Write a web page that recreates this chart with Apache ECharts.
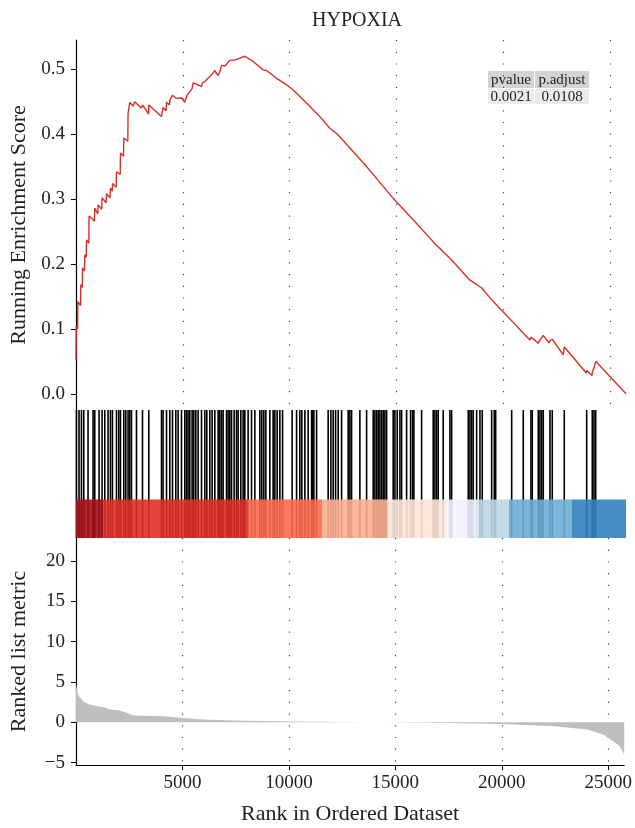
<!DOCTYPE html>
<html>
<head>
<meta charset="utf-8">
<title>HYPOXIA</title>
<script src="https://cdn.jsdelivr.net/npm/echarts@6/dist/echarts.min.js"></script>
<style>
  html, body { margin: 0; padding: 0; background: #fff; }
  #chart { width: 635px; height: 828px; }
</style>
</head>
<body>
<div id="chart"></div>
<script>
// ---- data ----
const geneCount = 25750;

// running enrichment score, [rank, score]
const esPoints = [
  [0, 0.052], [8, 0.104], [75, 0.100], [85, 0.142], [215, 0.136], [225, 0.168],
  [295, 0.164], [305, 0.194], [400, 0.189], [412, 0.214], [480, 0.210], [492, 0.237],
  [600, 0.232], [612, 0.274], [860, 0.266], [878, 0.286], [1020, 0.277], [1035, 0.291],
  [1200, 0.284], [1220, 0.302], [1410, 0.294], [1426, 0.308], [1590, 0.302], [1614, 0.317],
  [1700, 0.312], [1710, 0.324], [1880, 0.318], [1895, 0.342], [2070, 0.338], [2082, 0.371],
  [2225, 0.366], [2237, 0.394], [2425, 0.389], [2438, 0.432], [2510, 0.430], [2518, 0.449],
  [2672, 0.443], [2752, 0.450], [3066, 0.440], [3113, 0.445], [3400, 0.431], [3408, 0.445],
  [4003, 0.427], [4077, 0.441], [4220, 0.436], [4237, 0.449], [4380, 0.445], [4392, 0.452],
  [4518, 0.460], [4700, 0.455], [4939, 0.456], [5090, 0.449], [5174, 0.458], [5248, 0.462],
  [5436, 0.470], [5483, 0.479], [5700, 0.476], [5876, 0.473], [5923, 0.479], [6031, 0.481],
  [6185, 0.486], [6344, 0.491], [6499, 0.498], [6650, 0.490], [6733, 0.496], [6813, 0.506],
  [6980, 0.505], [7202, 0.514], [7436, 0.514], [7670, 0.517], [7905, 0.520], [8293, 0.512],
  [8761, 0.499], [8921, 0.498], [9389, 0.486], [9857, 0.476], [10167, 0.468], [10480, 0.458],
  [10949, 0.443], [11104, 0.437], [11417, 0.427], [11886, 0.409], [12200, 0.401], [12434, 0.393],
  [13604, 0.350], [14931, 0.298], [15788, 0.268], [16725, 0.234], [17586, 0.206], [18443, 0.175],
  [18992, 0.163], [19535, 0.142], [20003, 0.126], [20471, 0.110], [20865, 0.096], [21254, 0.083],
  [21301, 0.087], [21362, 0.088], [21642, 0.078], [21722, 0.083], [21802, 0.086], [21876, 0.090],
  [22150, 0.078], [22191, 0.082], [22298, 0.084], [22814, 0.060], [22860, 0.072], [23890, 0.032],
  [23909, 0.036], [24160, 0.028], [24172, 0.034], [24251, 0.040], [24331, 0.050], [25750, 0.0]
];

// ranks of the gene set members (hit ticks)
const hitRanks = [
  21, 143, 255, 363, 564, 799, 878, 1080, 1220, 1347, 1501, 1614, 1707, 1895, 2002, 2082,
  2237, 2330, 2438, 2518, 2597, 2831, 3113, 3408, 4003, 4077, 4237, 4392, 4518, 4672, 4780,
  4939, 5094, 5174, 5248, 5328, 5436, 5515, 5609, 5717, 5876, 6031, 6124, 6265, 6373, 6499,
  6654, 6733, 6813, 6888, 7047, 7122, 7202, 7281, 7403, 7516, 7590, 7717, 7825, 7904, 8059,
  8218, 8373, 8607, 8700, 8794, 8888, 9075, 9230, 9310, 9417, 9544, 9670, 10120, 10326,
  10480, 10574, 10715, 10869, 11029, 11075, 11136, 11263, 11806, 11933, 12040, 12153, 12275,
  12434, 12743, 12823, 12902, 13291, 13605, 13914, 13994, 14073, 14148, 14228, 14307, 14382,
  14462, 14542, 14851, 14931, 15038, 15165, 15244, 15478, 15666, 15759, 15820, 16181, 16724,
  16804, 16883, 16958, 17192, 17506, 17586, 18364, 18443, 18523, 18598, 18757, 18912, 19020,
  19460, 19582, 19648, 20397, 20940, 21301, 21362, 21643, 21722, 21802, 21876, 22191, 22298,
  22860, 23909, 24172, 24251, 24331
];

// colour bar bins along the ranked list
const barBreaks = [0, 1265, 8030, 11520, 14570, 17350, 18830, 20270, 23200, 25750];
const barColors = ['#A50F15', '#DE2D26', '#FB6A4A', '#FCAE91', '#FEE5D9',
                   '#EFF3FF', '#BDD7E7', '#6BAED6', '#3182BD'];

// ranked list metric, [rank, value]
const metricPoints = [
  [0, 4.8], [60, 3.8], [150, 3.2], [340, 2.6], [630, 2.2], [1000, 2.0], [1390, 1.8],
  [1580, 1.6], [1960, 1.5], [2250, 1.3], [2530, 1.0], [2720, 0.85], [3200, 0.8],
  [4050, 0.75], [4620, 0.63], [5000, 0.52], [5950, 0.35], [7850, 0.2], [9750, 0.12],
  [13550, 0.02], [14500, 0], [17350, -0.08], [20000, -0.2], [22480, -0.5], [24000, -0.9],
  [24760, -1.5], [25140, -2.2], [25520, -2.9], [25700, -3.7], [25750, -4.0]
];

// tick labels
const esTicks = [0, 0.1, 0.2, 0.3, 0.4, 0.5];
const metricTicks = [-5, 0, 5, 10, 15, 20];
const rankTicks = [5000, 10000, 15000, 20000, 25000];

// stats table
const tableHeader = ['pvalue', 'p.adjust'];
const tableValues = ['0.0021', '0.0108'];

// ---- chart ----
const font = 'Liberation Serif';
const textColor = '#222';

const dotted = {
  show: true,
  lineStyle: { color: '#444', width: 1.2, type: [1.2, 10.5] }
};

function rankAxis(gridIndex, showAxis, showGrid) {
  return {
    type: 'value',
    gridIndex: gridIndex,
    min: 0,
    max: geneCount,
    interval: 2500,
    splitLine: showGrid ? dotted : { show: false },
    axisLine: { show: showAxis, onZero: false, lineStyle: { color: '#000', width: 1.2 } },
    axisTick: { show: showAxis, length: 5, customValues: rankTicks, lineStyle: { color: '#000' } },
    axisLabel: {
      show: showAxis,
      customValues: rankTicks,
      formatter: v => String(v),
      margin: 9,
      color: textColor,
      fontFamily: font,
      fontSize: 19
    },
    name: showAxis ? 'Rank in Ordered Dataset' : '',
    nameLocation: 'middle',
    nameGap: 38,
    nameTextStyle: { color: textColor, fontFamily: font, fontSize: 22 }
  };
}

const leftAxisLine = { show: true, lineStyle: { color: '#000', width: 1.2 } };

const tableGraphics = [];
const cellX = [488, 535];
const cellW = [46, 54];
tableHeader.forEach((h, i) => {
  tableGraphics.push({
    type: 'rect', shape: { x: cellX[i], y: 71, width: cellW[i], height: 17 },
    style: { fill: '#d3d3d3' }
  });
  tableGraphics.push({
    type: 'rect', shape: { x: cellX[i], y: 89, width: cellW[i], height: 15 },
    style: { fill: '#ebebeb' }
  });
  tableGraphics.push({
    type: 'text', x: cellX[i] + cellW[i] / 2, y: 80,
    style: { text: h, fill: textColor, font: '15px "Liberation Serif"', align: 'center', verticalAlign: 'middle' }
  });
  tableGraphics.push({
    type: 'text', x: cellX[i] + cellW[i] / 2, y: 97,
    style: { text: tableValues[i], fill: textColor, font: '15px "Liberation Serif"', align: 'center', verticalAlign: 'middle' }
  });
});

const option = {
  animation: false,
  backgroundColor: '#fff',
  title: {
    text: 'HYPOXIA',
    left: 352,
    textAlign: 'center',
    top: 6,
    textStyle: { color: textColor, fontFamily: font, fontSize: 20, fontWeight: 'normal' }
  },
  grid: [
    { left: 76, right: 9, top: 40, height: 370 },
    { left: 76, right: 9, top: 410, height: 128 },
    { left: 76, right: 9, top: 538, height: 227 }
  ],
  xAxis: [rankAxis(0, false, true), rankAxis(1, false, false), rankAxis(2, true, true)],
  yAxis: [
    {
      type: 'value',
      gridIndex: 0,
      min: -0.025,
      max: 0.545,
      splitLine: { show: false },
      axisLine: leftAxisLine,
      axisTick: { show: true, length: 5, customValues: esTicks, lineStyle: { color: '#000' } },
      axisLabel: {
        customValues: esTicks,
        formatter: v => v.toFixed(1),
        margin: 11,
        color: textColor,
        fontFamily: font,
        fontSize: 19
      },
      name: 'Running Enrichment Score',
      nameLocation: 'middle',
      nameGap: 46,
      nameTextStyle: { color: textColor, fontFamily: font, fontSize: 22 }
    },
    {
      type: 'value',
      gridIndex: 1,
      min: 0,
      max: 1,
      splitLine: { show: false },
      axisLine: leftAxisLine,
      axisTick: { show: false },
      axisLabel: { show: false }
    },
    {
      type: 'value',
      gridIndex: 2,
      min: -5.29,
      max: 22.84,
      splitLine: { show: false },
      axisLine: leftAxisLine,
      axisTick: { show: true, length: 5, customValues: metricTicks, lineStyle: { color: '#000' } },
      axisLabel: {
        customValues: metricTicks,
        formatter: v => String(v).replace('-', '\u2212'),
        margin: 11,
        color: textColor,
        fontFamily: font,
        fontSize: 19
      },
      name: 'Ranked list metric',
      nameLocation: 'middle',
      nameGap: 46,
      nameTextStyle: { color: textColor, fontFamily: font, fontSize: 22 }
    }
  ],
  graphic: tableGraphics,
  series: [
    {
      name: 'Running Enrichment Score',
      type: 'line',
      xAxisIndex: 0,
      yAxisIndex: 0,
      data: esPoints,
      showSymbol: false,
      lineStyle: { color: '#d73027', width: 1.4 },
      z: 3
    },
    {
      name: 'hits',
      type: 'custom',
      xAxisIndex: 1,
      yAxisIndex: 1,
      data: hitRanks.map(r => [r]),
      renderItem: (params, api) => {
        const bottom = api.coord([api.value(0), 0]);
        const top = api.coord([api.value(0), 1]);
        return {
          type: 'line',
          shape: { x1: bottom[0], y1: bottom[1], x2: top[0], y2: top[1] },
          style: { stroke: '#000', lineWidth: 1.6 }
        };
      },
      z: 2
    },
    {
      name: 'colour bar',
      type: 'custom',
      xAxisIndex: 1,
      yAxisIndex: 1,
      data: barColors.map((c, i) => [barBreaks[i], barBreaks[i + 1], i]),
      renderItem: (params, api) => {
        const p0 = api.coord([api.value(0), 0]);
        const p1 = api.coord([api.value(1), 0.3]);
        return {
          type: 'rect',
          shape: { x: p0[0], y: p1[1], width: p1[0] - p0[0], height: p0[1] - p1[1] },
          style: { fill: barColors[api.value(2)], opacity: 0.9 }
        };
      },
      z: 3
    },
    {
      name: 'Ranked list metric',
      type: 'line',
      xAxisIndex: 2,
      yAxisIndex: 2,
      data: metricPoints,
      showSymbol: false,
      lineStyle: { width: 0 },
      areaStyle: { color: '#bebebe', opacity: 1 },
      z: 2
    }
  ]
};

const chart = echarts.init(document.getElementById('chart'), null, { renderer: 'canvas' });
chart.setOption(option);
</script>
</body>
</html>
